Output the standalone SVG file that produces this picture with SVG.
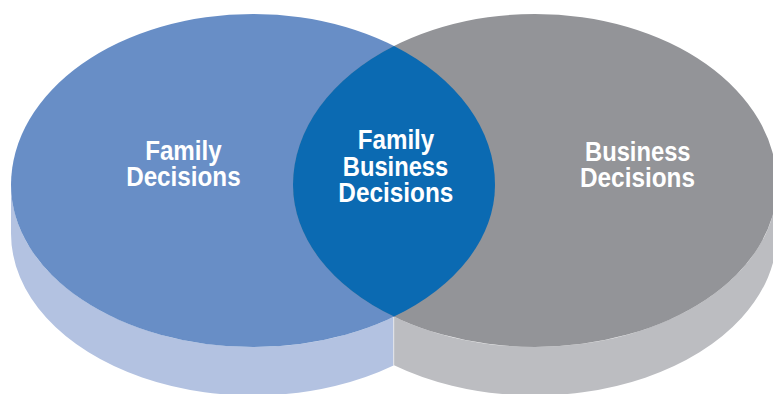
<svg xmlns="http://www.w3.org/2000/svg" width="773" height="394" viewBox="0 0 773 394">
  <style>
    .lbl { font-family: "Liberation Sans", Arial, sans-serif; font-weight: bold; font-size: 27px; fill: #ffffff; text-anchor: middle; }
  </style>
  <rect width="773" height="394" fill="#ffffff"/>
  <g id="family-side">
    <path d="M 11 185 L 11 233.5 A 242 162 0 0 0 393.5 365.4 L 393.5 316.9 A 242 162 0 0 1 11 185 Z" fill="#b3c2e1"/>
  </g>
  <g id="business-side">
    <path d="M 393.5 316.4 L 393.5 364.9 A 242 162 0 0 0 777 233.5 L 777 185 A 242 162 0 0 1 393.5 316.4 Z" fill="#bcbdc1"/>
    <line x1="393.7" y1="316.6" x2="393.7" y2="365" stroke="#e4e6ec" stroke-width="1"/>
  </g>
  <g id="family">
    <path d="M 11 185 A 242 171 0 0 1 495 185 A 242 162 0 0 1 11 185 Z" fill="#688ec6"/>
    <text class="lbl" x="183.4" y="159.5" textLength="76.5" lengthAdjust="spacingAndGlyphs">Family</text>
    <text class="lbl" x="183.4" y="186" textLength="114.5" lengthAdjust="spacingAndGlyphs">Decisions</text>
  </g>
  <g id="business">
    <path d="M 293 185 A 242 171 0 0 1 777 185 A 242 162 0 0 1 293 185 Z" fill="#939498"/>
    <text class="lbl" x="637.8" y="160.7" textLength="105.5" lengthAdjust="spacingAndGlyphs">Business</text>
    <text class="lbl" x="637.5" y="187.3" textLength="115" lengthAdjust="spacingAndGlyphs">Decisions</text>
  </g>
  <g id="family-business">
    <path d="M 394 46 A 242 171 0 0 1 495 185 A 242 162 0 0 1 394 316.6 A 242 162 0 0 1 293 185 A 242 171 0 0 1 394 46 Z" fill="#0b6ab2"/>
    <text class="lbl" x="396" y="149.4" textLength="76.5" lengthAdjust="spacingAndGlyphs">Family</text>
    <text class="lbl" x="395.5" y="175.7" textLength="105.5" lengthAdjust="spacingAndGlyphs">Business</text>
    <text class="lbl" x="395.8" y="201.7" textLength="115" lengthAdjust="spacingAndGlyphs">Decisions</text>
  </g>
  <g id="connectors"/>
</svg>
